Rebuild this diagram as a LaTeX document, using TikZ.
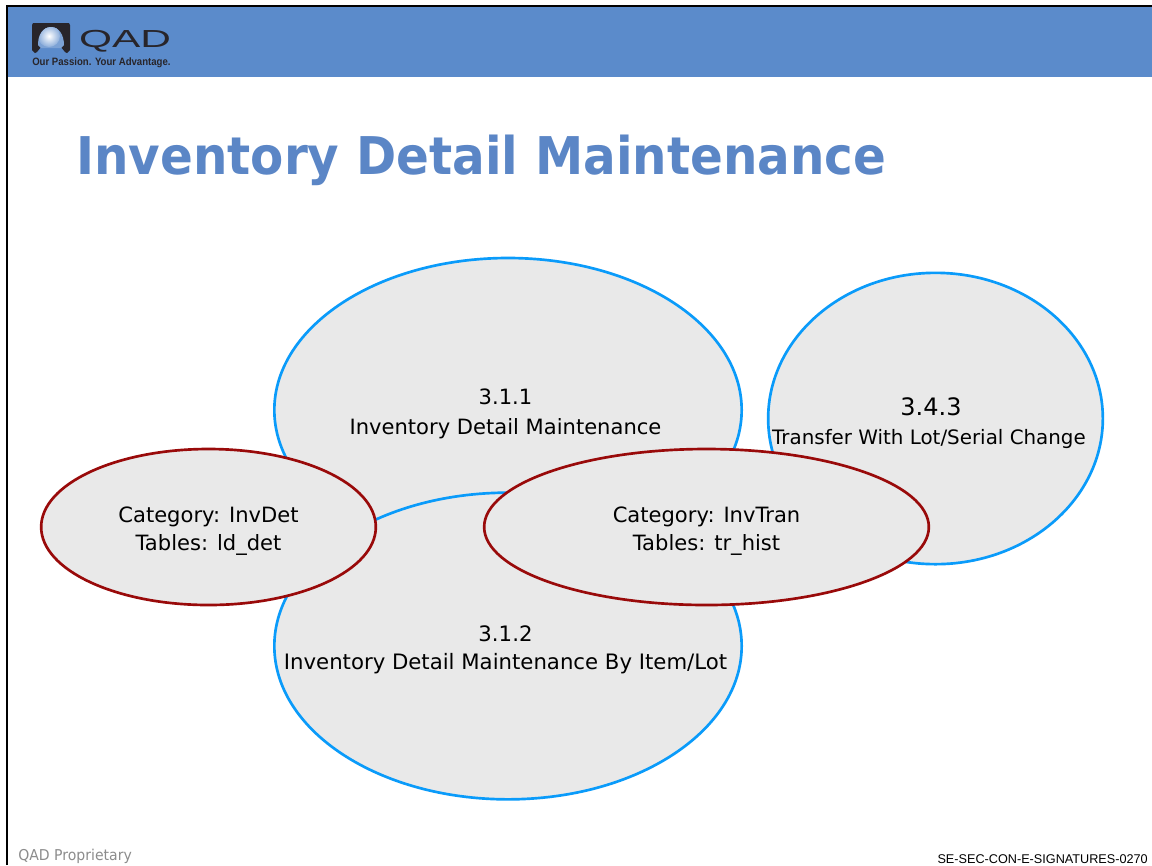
\documentclass[tikz,border=0pt]{standalone}
\usepackage{fontspec}
\usetikzlibrary{shapes.geometric}
\setmainfont{DejaVu Sans}
\newfontfamily\arialfont{Liberation Sans}
\definecolor{barblue}{HTML}{5B8BCB}
\definecolor{titleblue}{HTML}{5B86C6}
\definecolor{ringblue}{HTML}{0A9BFA}
\definecolor{ringred}{HTML}{990A0A}
\definecolor{fillgrey}{HTML}{E9E9E9}
\definecolor{logodark}{HTML}{28252A}
\definecolor{footgrey}{HTML}{8C8C8C}
\tikzset{
  x=0.75pt,y=-0.75pt,
  blueoval/.style={ellipse,draw=ringblue,fill=fillgrey,line width=2pt,inner sep=0pt},
  redoval/.style={ellipse,draw=ringred,fill=fillgrey,line width=2pt,inner sep=0pt},
  ovaltext/.style={align=center,font=\fontsize{15.8}{21.5}\selectfont,text=black,inner sep=0pt},
}
\begin{document}
\begin{tikzpicture}
\useasboundingbox (0,0) rectangle (1152,865);
\fill[white] (0,0) rectangle (1152,865);
% header
\fill[barblue] (7,6) rectangle (1152,77);
\draw[black,line width=1.5pt] (7,865) -- (7,6) -- (1152,6);
% logo
\fill[logodark] (33,23) -- (69,23) -- (70,25) -- (70,50) -- (67,53) -- (65,52) -- (61,47)
  -- (41,47) -- (37,52) -- (35,53) -- (32,50) -- (32,25) -- cycle;
\begin{scope}
\clip (38,45) .. controls (38,35) and (43,27) .. (51,27) .. controls (59,27) and (64,35) .. (64,45) -- (61,48) -- (41,48) -- cycle;
\fill[barblue!80!white] (36,26) rectangle (66,49);
\shade[inner color=white,outer color=barblue!70!white] (49,36) circle (11);
\end{scope}
\node[inner sep=0pt,anchor=center,text=logodark] (qad) at (125,41)
  {\arialfont\scalebox{1.72}[1.0]{\fontsize{18.5}{20}\selectfont QAD}};
\node[inner sep=0pt,anchor=west,text=logodark] (tag) at (32,63)
  {\arialfont\scalebox{0.9}[1]{\bfseries\fontsize{8}{8}\selectfont Our Passion. Your Advantage.}};
% title
\node[inner sep=0pt,anchor=west,text=titleblue] (title) at (76,160)
  {\scalebox{0.931}[1]{\bfseries\fontsize{39}{39}\selectfont Inventory Detail Maintenance}};
% ovals
\node[blueoval,minimum width=350.5pt,minimum height=228pt] (a) at (508,410) {};
\node[blueoval,minimum width=251pt,minimum height=218.5pt] (c) at (935.5,418.5) {};
\node[blueoval,minimum width=350.5pt,minimum height=230pt] (b) at (508,646) {};
\node[redoval,minimum width=251pt,minimum height=117pt] (d) at (208.5,527) {};
\node[redoval,minimum width=333.5pt,minimum height=117pt] (e) at (706.5,527) {};
% texts
\node[ovaltext,font=\fontsize{15.8}{22.5}\selectfont] (ta) at (505.5,413.5) {3.1.1\\Inventory Detail Maintenance};
\node[ovaltext,font=\fontsize{15.93}{21}\selectfont] (tb) at (505.5,650) {3.1.2\\Inventory Detail Maintenance By Item/Lot};
\node[ovaltext] (tc1) at (931,407) {\fontsize{18}{21}\selectfont 3.4.3};
\node[ovaltext,font=\fontsize{14.9}{21}\selectfont] (tc2) at (929,439) {Transfer With Lot/Serial Change};
\node[ovaltext,font=\fontsize{15.8}{21}\selectfont] (td) at (208.5,531) {Category: InvDet\\Tables: ld\_det};
\node[ovaltext,font=\fontsize{15.8}{21}\selectfont] (te) at (706.5,531) {Category: InvTran\\Tables: tr\_hist};
% footer
\node[inner sep=0pt,anchor=west,text=footgrey] (fl) at (18,856)
  {\scalebox{0.94}[1]{\fontsize{11.2}{12}\selectfont QAD Proprietary}};
\node[inner sep=0pt,anchor=east,text=black] (fr) at (1148,859)
  {\arialfont\fontsize{9.5}{10}\selectfont SE-SEC-CON-E-SIGNATURES-0270};
\end{tikzpicture}
\end{document}
